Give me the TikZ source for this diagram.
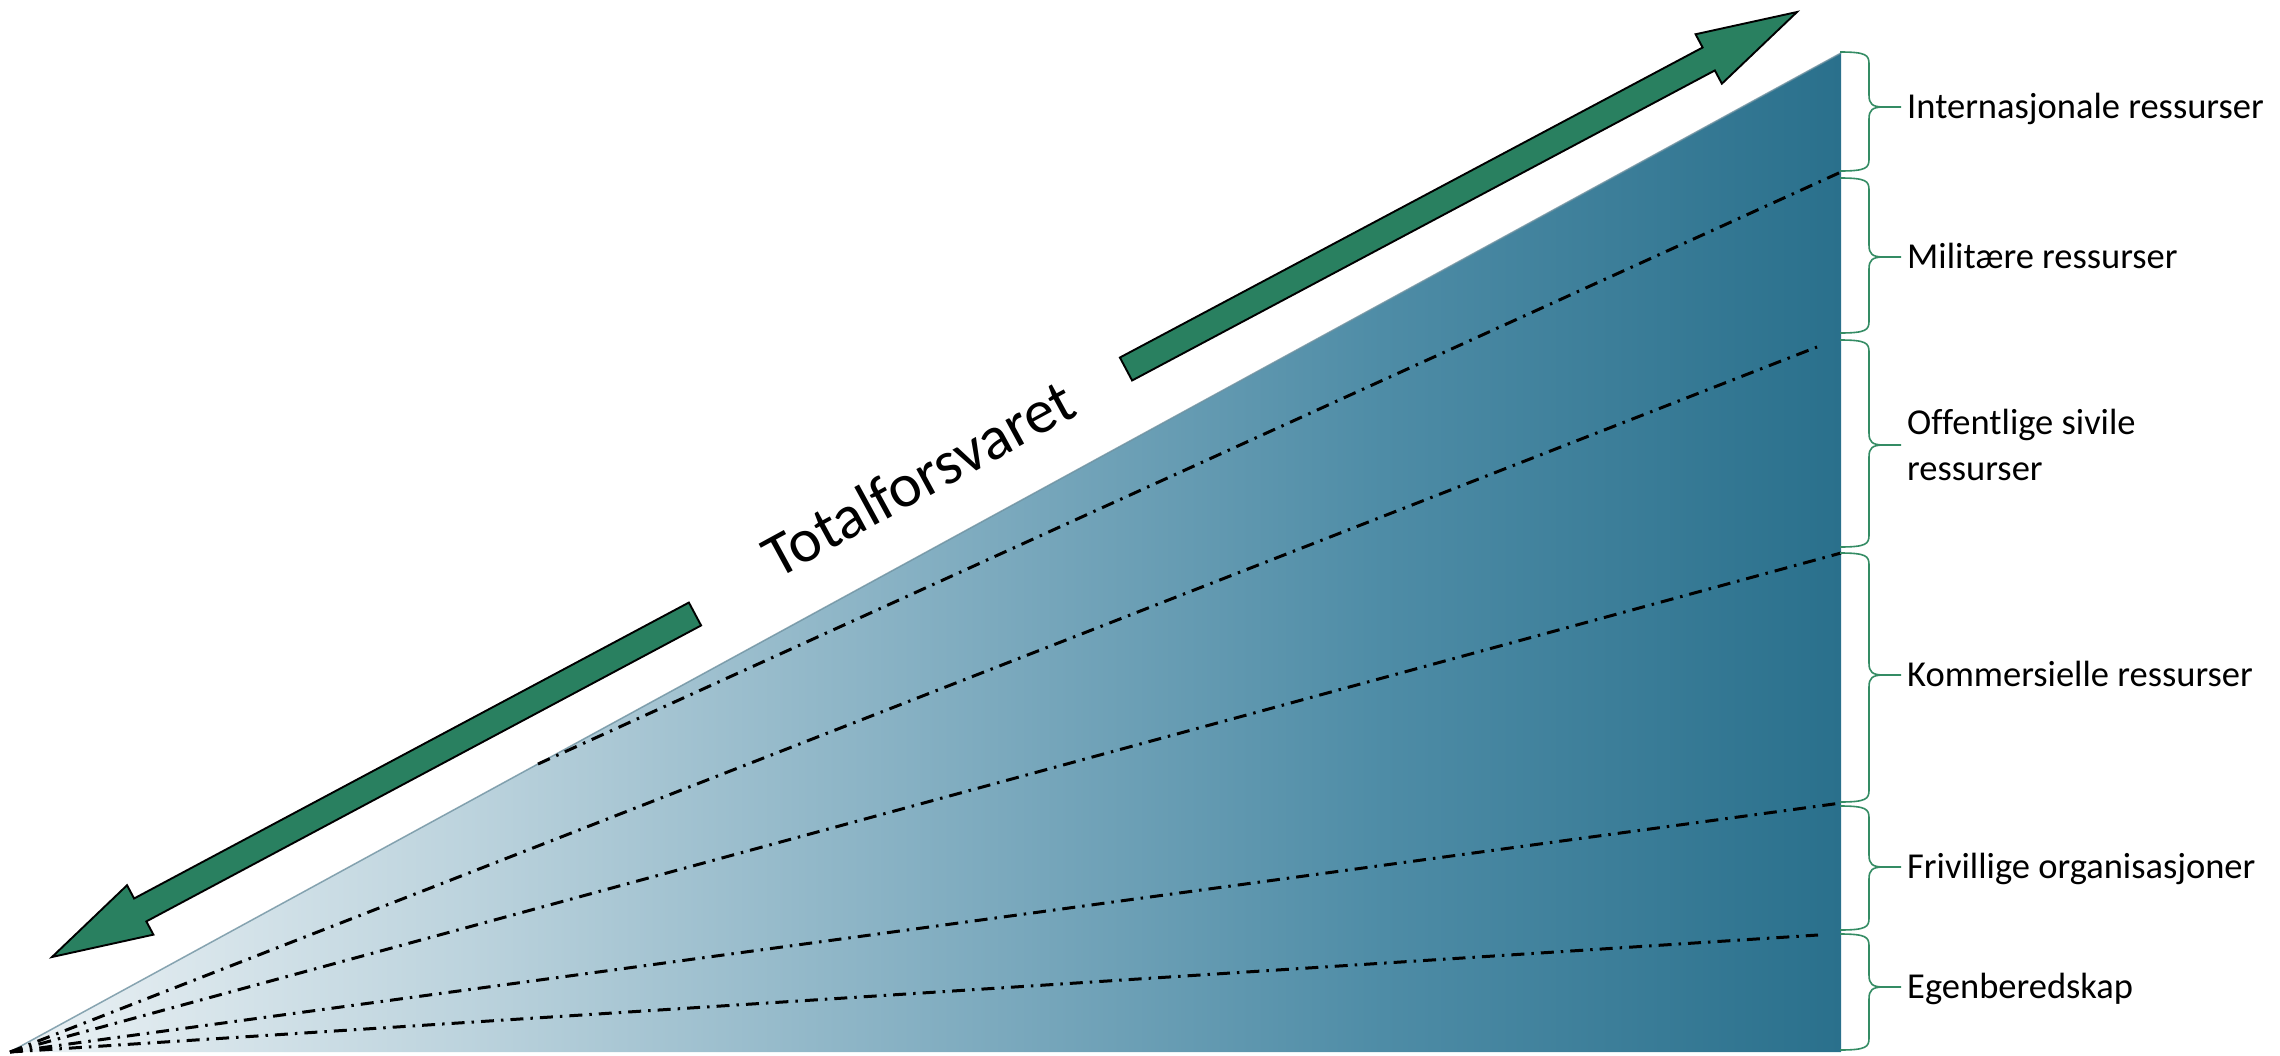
\documentclass[tikz,border=0pt]{standalone}
\usepackage{fontspec}
\setmainfont{Carlito}[Ligatures=NoCommon]
\usetikzlibrary{calc}
\definecolor{arrowgreen}{RGB}{41,128,96}
\definecolor{bracegreen}{RGB}{52,140,100}
\definecolor{edgeblue}{RGB}{110,145,160}
\definecolor{sh0}{RGB}{236,242,245}
\definecolor{sh1}{RGB}{188,211,221}
\definecolor{sh2}{RGB}{132,175,194}
\definecolor{sh3}{RGB}{78,140,166}
\definecolor{sh4}{RGB}{42,112,140}
\pgfdeclarehorizontalshading{trishade}{100bp}{color(0bp)=(sh0); color(25bp)=(sh0); color(37.5bp)=(sh1); color(50bp)=(sh2); color(62.5bp)=(sh3); color(75bp)=(sh4); color(100bp)=(sh4)}
\newcommand{\fatarrow}[2]{%
  \coordinate (#1-base) at ($(#2)!100pt!(#1)$);
  \filldraw[fatarrowstyle] ($(#1)!13pt!90:(#2)$) -- ($(#1-base)!13pt!90:(#2)$) -- ($(#1-base)!28pt!90:(#2)$) -- (#2) -- ($(#1-base)!28pt!-90:(#2)$) -- ($(#1-base)!13pt!-90:(#2)$) -- ($(#1)!13pt!-90:(#2)$) -- cycle;}
\newcommand{\sidebrace}[3]{%
  \draw[bracestyle] (1840,#1) .. controls (1866,#1) and (1869,#1+3) .. (1869,#1+12) -- (1869,#2-12) .. controls (1869,#2-3) and (1872,#2) .. (1884,#2) -- (1901,#2)
    (1884,#2) .. controls (1872,#2) and (1869,#2+3) .. (1869,#2+12) -- (1869,#3-12) .. controls (1869,#3-3) and (1866,#3) .. (1840,#3);}
\begin{document}
\begin{tikzpicture}[x=1pt,y=-1pt,
  fatarrowstyle/.style={fill=arrowgreen, draw=black, line width=1.9pt, line join=miter},
  bracestyle/.style={draw=bracegreen, line width=1.6pt},
  dashdot/.style={line width=3pt, dash pattern=on 13pt off 7pt on 2.5pt off 7pt},
  lbl/.style={inner sep=0pt, font=\fontsize{36.5}{46}\selectfont, align=left},
  title/.style={inner sep=0pt, font=\fontsize{62}{70}\selectfont}]
\fill[white] (0,0) rectangle (2280,1055);
\useasboundingbox (0,0) rectangle (2280,1055);
% triangle
\coordinate (v) at (10,1052);
\coordinate (top) at (1841,53);
\coordinate (br) at (1841,1052);
\shade[shading=trishade] (v) -- (top) -- (br) -- cycle;
\draw[edgeblue, line width=1.5pt, opacity=0.8] (v) -- (top);
% dash-dot lines
\coordinate (s1) at (538,764);
\coordinate (e1) at (1841,172);
\coordinate (e2) at (1817,347);
\coordinate (e3) at (1841,553);
\coordinate (e4) at (1841,803);
\coordinate (e5) at (1818,935);
\draw[dashdot] (s1) -- (e1);
\draw[dashdot] (v) -- (e2);
\draw[dashdot] (v) -- (e3);
\draw[dashdot] (v) -- (e4);
\draw[dashdot] (v) -- (e5);
% braces
\sidebrace{52}{107}{171}
\sidebrace{178}{257}{333}
\sidebrace{340}{445}{547}
\sidebrace{553}{675}{802}
\sidebrace{806}{867}{930}
\sidebrace{934}{987}{1050}
% labels
\coordinate (t1) at (1903,107);
\coordinate (t2) at (1903,257);
\coordinate (t3) at (1903,445);
\coordinate (t4) at (1903,675);
\coordinate (t5) at (1903,867);
\coordinate (t6) at (1903,987);
\node[lbl, anchor=base west] (l1) at ([xshift=4pt,yshift=-11.5pt]t1) {Internasjonale ressurser};
\node[lbl, anchor=base west] (l2) at ([xshift=4pt,yshift=-11.5pt]t2) {Militære ressurser};
\node[lbl, anchor=west] (l3) at ([xshift=4pt]t3) {Offentlige sivile\\ressurser};
\node[lbl, anchor=base west] (l4) at ([xshift=4pt,yshift=-11.5pt]t4) {Kommersielle ressurser};
\node[lbl, anchor=base west] (l5) at ([xshift=4pt,yshift=-11.5pt]t5) {Frivillige organisasjoner};
\node[lbl, anchor=base west] (l6) at ([xshift=4pt,yshift=-11.5pt]t6) {Egenberedskap};
% arrows
\coordinate (ua) at (1126,369);
\coordinate (ub) at (1797,12);
\coordinate (la) at (695,614);
\coordinate (lb) at (52,957);
\fatarrow{ua}{ub}
\fatarrow{la}{lb}
% title
\node[title, rotate=28.6] (ttl) at (918,478) {Totalforsvaret};
\end{tikzpicture}
\end{document}
